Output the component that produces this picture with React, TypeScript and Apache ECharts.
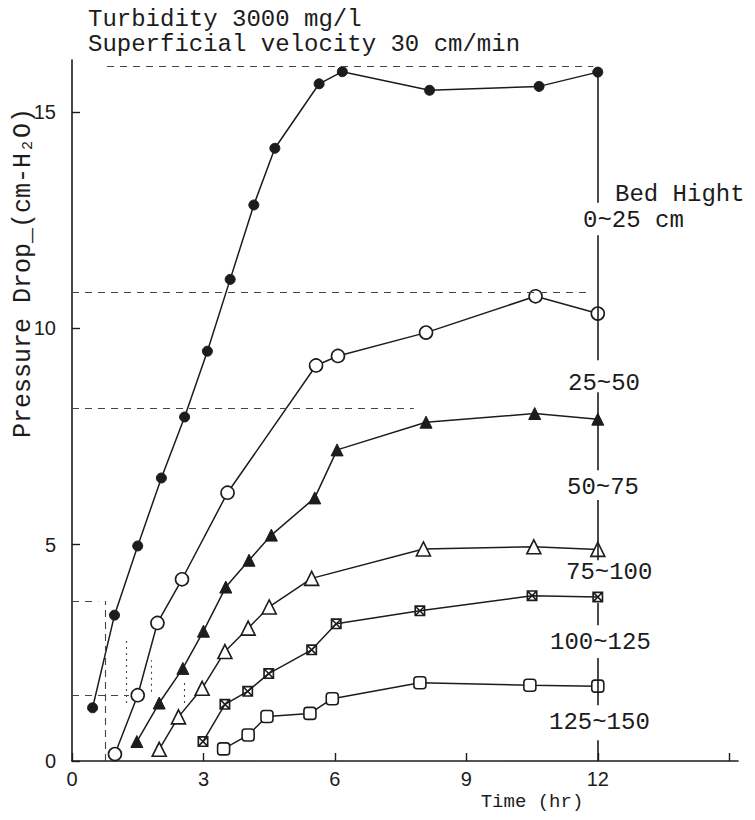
import React, { useEffect, useRef } from "react";
import * as echarts from "echarts";

// ---- texts ----
const titleLines = ["Turbidity 3000 mg/l", "Superficial velocity 30 cm/min"];
const yAxisTitle = "Pressure Drop_(cm-H\u2082O)";
const xAxisTitle = "Time (hr)";
const bedTitle = "Bed Hight";
const seriesNames = ["0~25 cm", "25~50", "50~75", "75~100", "100~125", "125~150"];
const xTickValues = [0, 3, 6, 9, 12, 15];
const xLabelValues = [0, 3, 6, 9, 12];
const yTickValues = [0, 5, 10, 15];

// ---- series data (time hr, pressure drop cm-H2O) ----
const time1 = [0.47, 0.97, 1.5, 2.04, 2.57, 3.09, 3.61, 4.15, 4.63, 5.64, 6.17, 8.16, 10.66, 12];
const drop1 = [1.23, 3.37, 4.97, 6.54, 7.95, 9.47, 11.13, 12.85, 14.16, 15.65, 15.93, 15.5, 15.59, 15.92];

const time2 = [0.98, 1.5, 1.95, 2.51, 3.55, 5.57, 6.07, 8.08, 10.58, 12];
const drop2 = [0.16, 1.52, 3.19, 4.2, 6.2, 9.14, 9.36, 9.9, 10.74, 10.34];

const time3 = [1.48, 1.99, 2.53, 3.0, 3.51, 4.04, 4.55, 5.54, 6.05, 8.08, 10.56, 12];
const drop3 = [0.45, 1.34, 2.14, 3.0, 4.02, 4.64, 5.22, 6.08, 7.19, 7.83, 8.03, 7.9];

const time4 = [1.99, 2.43, 2.97, 3.49, 4.02, 4.5, 5.47, 8.02, 10.54, 12];
const drop4 = [0.27, 1.02, 1.68, 2.53, 3.07, 3.56, 4.22, 4.9, 4.95, 4.89];

const time5 = [2.99, 3.49, 4.01, 4.49, 5.47, 6.03, 7.94, 10.5, 12];
const drop5 = [0.45, 1.31, 1.61, 2.02, 2.57, 3.17, 3.47, 3.82, 3.79];

const time6 = [3.46, 4.02, 4.45, 5.43, 5.94, 7.94, 10.45, 12];
const drop6 = [0.28, 0.6, 1.03, 1.1, 1.44, 1.81, 1.75, 1.73];

// right-hand frame at t = 12, broken where the bed labels sit: [from, to]
const frameTime = 12;
const frameSegments = [
  [0, 0.48],
  [1.29, 2.38],
  [3.14, 3.65],
  [4.64, 6.03],
  [6.72, 8.52],
  [9.26, 12.15],
  [12.9, 15.92],
];

// faint construction lines of the scan
const guideH = [
  // [value, fromTime, toTime]
  [16.05, 0.8, 11.9],
  [10.83, 0, 11.8],
  [8.15, 0, 7.8],
  [3.7, 0, 0.6],
  [1.52, 0, 1.3],
];
const guideV = [
  // [time, fromValue, toValue]
  [0.75, 0, 3.7],
  [1.23, 1.34, 2.8],
  [1.81, 1.6, 2.33],
  [2.56, 1.34, 1.87],
];

const zip = (t: number[], v: number[]) => t.map((x, i) => [x, v[i]]);

const crossSquare =
  "path://M0 0H10V10H0ZM1.5 1.5V8.5H8.5V1.5ZM1 2L2 1L9 8L8 9ZM8 1L9 2L2 9L1 8Z";

const INK = "#1c1c1c";
const MONO = '"Liberation Mono", "DejaVu Sans Mono", monospace';
const SANS = '"Liberation Sans", "DejaVu Sans", sans-serif';

export default function App() {
  const ref = useRef<HTMLDivElement>(null);

  useEffect(() => {
    if (!ref.current) return;
    const chart = echarts.init(ref.current, null, { renderer: "svg" });

    const markerStyles = [
      { symbol: "circle", symbolSize: 10, itemStyle: { color: INK, borderColor: INK, borderWidth: 1 } },
      { symbol: "circle", symbolSize: 13, itemStyle: { color: "#fff", borderColor: INK, borderWidth: 1.6 } },
      { symbol: "triangle", symbolSize: 12, itemStyle: { color: INK, borderColor: INK, borderWidth: 1 } },
      { symbol: "triangle", symbolSize: 14, itemStyle: { color: "#fff", borderColor: INK, borderWidth: 1.6 } },
      { symbol: crossSquare, symbolSize: 11, itemStyle: { color: INK } },
      { symbol: "roundRect", symbolSize: 12, itemStyle: { color: "#fff", borderColor: INK, borderWidth: 1.6 } },
    ];
    const datasets = [
      zip(time1, drop1),
      zip(time2, drop2),
      zip(time3, drop3),
      zip(time4, drop4),
      zip(time5, drop5),
      zip(time6, drop6),
    ];

    const dataSeries = datasets.map((d, i) => ({
      name: seriesNames[i],
      type: "line",
      data: d,
      showSymbol: true,
      ...markerStyles[i],
      lineStyle: { color: INK, width: 1.5 },
      z: 3,
    }));

    const guideSeries = {
      type: "line",
      data: [],
      silent: true,
      markLine: {
        silent: true,
        symbol: ["none", "none"],
        label: { show: false },
        animation: false,
        data: [
          ...guideH.map(([v, a, b]) => [
            { coord: [a, v], lineStyle: { type: [7, 6], color: "#444", width: 1.1 } },
            { coord: [b, v] },
          ]),
          ...guideV.map(([t, a, b], i) => [
            {
              coord: [t, a],
              lineStyle: { type: i === 0 ? [7, 5] : [2, 4], color: "#444", width: 1.1 },
            },
            { coord: [t, b] },
          ]),
          ...frameSegments.map(([a, b]) => [
            { coord: [frameTime, a], lineStyle: { type: "solid", color: INK, width: 1.6 } },
            { coord: [frameTime, b] },
          ]),
        ],
      },
    };

    const bedText = (text: string, x: number, y: number) => ({
      type: "text",
      x,
      y,
      style: { text, font: `24px ${MONO}`, fill: INK, align: "left", verticalAlign: "middle" },
    });

    chart.setOption({
      animation: false,
      backgroundColor: "#fff",
      grid: { left: 72, right: 17, top: 60, bottom: 59 },
      xAxis: {
        type: "value",
        min: 0,
        max: 15.2,
        interval: 3,
        splitLine: { show: false },
        axisLine: { lineStyle: { color: INK, width: 1.6 } },
        axisTick: { inside: true, length: 8, lineStyle: { color: INK, width: 1.4 }, customValues: xTickValues },
        axisLabel: {
          customValues: xLabelValues,
          color: INK,
          fontFamily: SANS,
          fontSize: 20,
          margin: 8,
        },
      },
      yAxis: {
        type: "value",
        min: 0,
        max: 16.2,
        interval: 5,
        splitLine: { show: false },
        axisLine: { show: true, lineStyle: { color: INK, width: 1.6 } },
        axisTick: { show: true, inside: true, length: 8, lineStyle: { color: INK, width: 1.4 }, customValues: yTickValues },
        axisLabel: {
          customValues: yTickValues,
          color: INK,
          fontFamily: SANS,
          fontSize: 20,
          margin: 16,
        },
      },
      series: [...dataSeries, guideSeries],
      graphic: [
        {
          type: "text",
          x: 88,
          y: 19,
          style: { text: titleLines[0], font: `24px ${MONO}`, fill: INK, align: "left", verticalAlign: "middle" },
        },
        {
          type: "text",
          x: 88,
          y: 44,
          style: { text: titleLines[1], font: `24px ${MONO}`, fill: INK, align: "left", verticalAlign: "middle" },
        },
        {
          type: "text",
          x: 23,
          y: 273,
          rotation: Math.PI / 2,
          style: { text: yAxisTitle, font: `25px ${MONO}`, fill: INK, align: "center", verticalAlign: "middle" },
        },
        {
          type: "text",
          x: 532,
          y: 802,
          style: { text: xAxisTitle, font: `19px ${MONO}`, fill: INK, align: "center", verticalAlign: "middle" },
        },
        bedText(bedTitle, 615, 194),
        bedText(seriesNames[0], 583, 220),
        bedText(seriesNames[1], 568, 383),
        bedText(seriesNames[2], 567, 487),
        bedText(seriesNames[3], 566, 572),
        bedText(seriesNames[4], 550, 642),
        bedText(seriesNames[5], 549, 722),
      ],
    });

    return () => chart.dispose();
  }, []);

  return (
    <div
      ref={ref}
      style={{ position: "absolute", left: 0, top: 0, width: 755, height: 820, background: "#fff" }}
    />
  );
}
